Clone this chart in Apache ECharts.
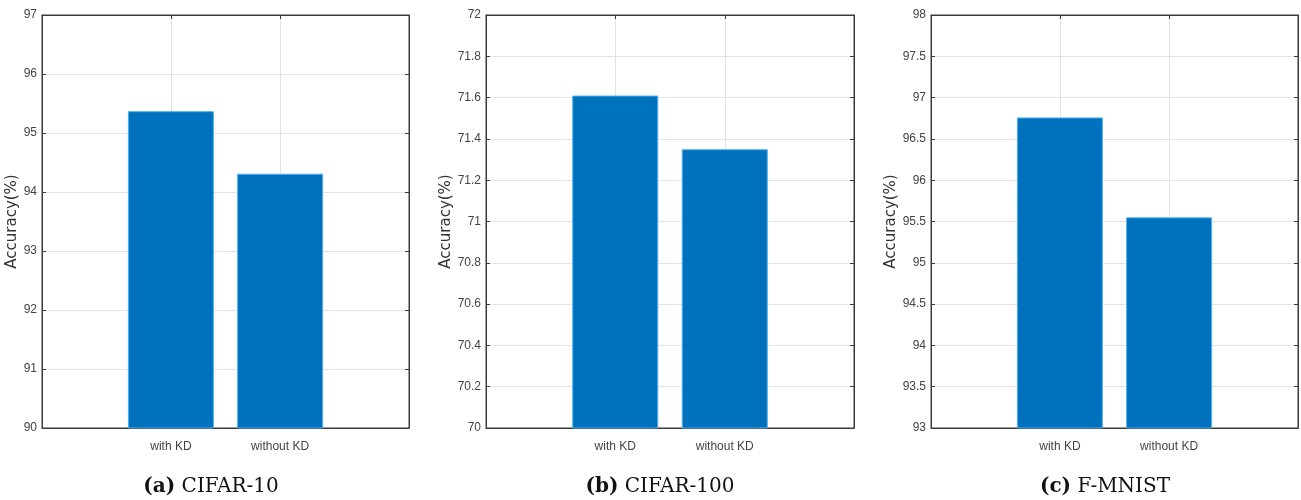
<!DOCTYPE html>
<html>
<head>
<meta charset="utf-8">
<script src="https://cdn.jsdelivr.net/npm/echarts@6/dist/echarts.min.js"></script>
<style>
html,body{margin:0;padding:0;background:#fff;}
#c{width:1301px;height:500px;}
</style>
</head>
<body>
<div id="c"></div>
<script>
// ---- data ----
const categories = ['with KD', 'without KD'];
const cifar10 = [95.37, 94.31];
const cifar100 = [71.61, 71.35];
const fmnist = [96.76, 95.55];
const captionTags = ['(a)', '(b)', '(c)'];
const captionNames = ['CIFAR-10', 'CIFAR-100', 'F-MNIST'];
const yMins = [90, 70, 93];
const yMaxs = [97, 72, 98];
const yIntervals = [1, 0.2, 0.5];
const seriesValues = [cifar10, cifar100, fmnist];

// ---- layout ----
const grids = [
  {left: 42, width: 367},
  {left: 486, width: 368},
  {left: 931, width: 367}
];
const captionCenters = [206, 655, 1100];
const nameGaps = [21, 29, 31];
const xMin = -0.18, xMax = 3.18;
const tickFont = "'Liberation Sans Narrow', 'Liberation Sans', Arial, sans-serif";
const frameColor = '#3a3a3a';
const catPos = categories.map((c, i) => i + 1);

const option = {
  backgroundColor: '#fff',
  animation: false,
  title: captionNames.map((n, i) => ({
    text: '{b|' + captionTags[i] + '} ' + n,
    left: captionCenters[i],
    textAlign: 'center',
    top: 472,
    textStyle: {
      fontFamily: "'DejaVu Serif', 'Liberation Serif', serif",
      fontSize: 20,
      fontWeight: 'normal',
      color: '#111',
      rich: {
        b: {fontFamily: "'DejaVu Serif', 'Liberation Serif', serif", fontSize: 20, fontWeight: 'bold', color: '#111'}
      }
    }
  })),
  grid: grids.map(g => ({
    left: g.left, width: g.width, top: 15, bottom: 72,
    show: true, borderColor: frameColor, borderWidth: 1, backgroundColor: '#fff'
  })),
  xAxis: [].concat(
    grids.map((g, i) => ({
      type: 'value', gridIndex: i, min: xMin, max: xMax, position: 'bottom',
      axisLine: {show: true, onZero: false, lineStyle: {color: frameColor}},
      axisTick: {show: true, inside: true, length: 4, customValues: catPos, lineStyle: {color: frameColor}},
      axisLabel: {
        customValues: catPos, margin: 13,
        formatter: v => categories[Math.round(v) - 1] || '',
        fontFamily: tickFont, fontSize: 12, color: '#444'
      },
      splitLine: {show: true, lineStyle: {color: '#e3e3e3', width: 1}}
    })),
    grids.map((g, i) => ({
      type: 'value', gridIndex: i, min: xMin, max: xMax, position: 'top',
      axisLine: {show: true, onZero: false, lineStyle: {color: frameColor}},
      axisTick: {show: true, inside: true, length: 4, customValues: catPos, lineStyle: {color: frameColor}},
      axisLabel: {show: false},
      splitLine: {show: false}
    }))
  ),
  yAxis: [].concat(
    grids.map((g, i) => ({
      type: 'value', gridIndex: i, min: yMins[i], max: yMaxs[i], interval: yIntervals[i],
      position: 'left',
      name: 'Accuracy(%)', nameLocation: 'middle', nameGap: nameGaps[i],
      nameTextStyle: {fontFamily: "'DejaVu Sans', 'Liberation Sans', sans-serif", fontSize: 15, color: '#333'},
      axisLine: {show: true, onZero: false, lineStyle: {color: frameColor}},
      axisTick: {show: true, inside: true, length: 4, lineStyle: {color: frameColor}},
      axisLabel: {fontFamily: tickFont, fontSize: 12, color: '#444', margin: 5,
        formatter: v => String(parseFloat(v.toFixed(2)))},
      splitLine: {show: true, lineStyle: {color: '#e3e3e3', width: 1}}
    })),
    grids.map((g, i) => ({
      type: 'value', gridIndex: i, min: yMins[i], max: yMaxs[i], interval: yIntervals[i],
      position: 'right',
      axisLine: {show: true, onZero: false, lineStyle: {color: frameColor}},
      axisTick: {show: true, inside: true, length: 4, lineStyle: {color: frameColor}},
      axisLabel: {show: false},
      splitLine: {show: false}
    }))
  ),
  series: seriesValues.map((vals, i) => ({
    type: 'bar',
    xAxisIndex: i, yAxisIndex: i,
    barWidth: 86,
    data: vals.map((v, j) => [catPos[j], v]),
    itemStyle: {color: '#0071BC', borderColor: '#4fb0ee', borderWidth: 1}
  }))
};

const chart = echarts.init(document.getElementById('c'), null, {renderer: 'canvas'});
chart.setOption(option);
</script>
</body>
</html>
